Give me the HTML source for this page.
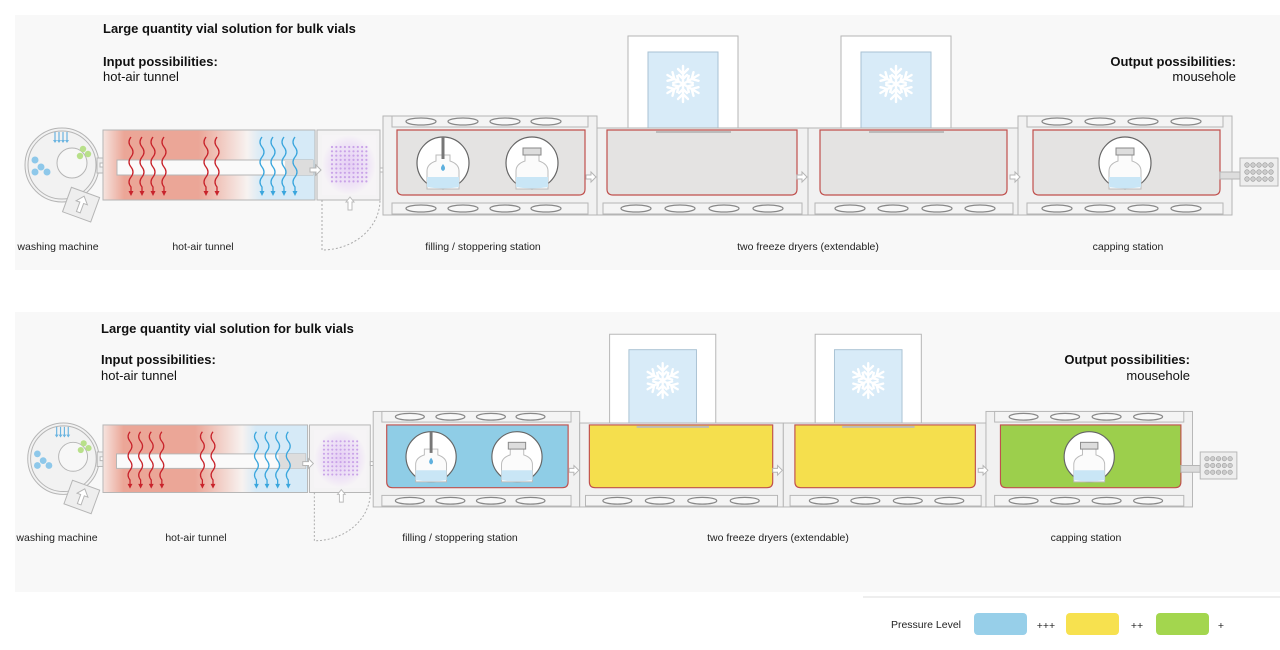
<!DOCTYPE html>
<html><head><meta charset="utf-8"><style>
html,body{margin:0;padding:0;background:#fff;width:1280px;height:650px;overflow:hidden}
svg{display:block;font-family:"Liberation Sans",sans-serif}
</style></head><body>
<svg id="s" width="1280" height="650" viewBox="0 0 1280 650" xmlns="http://www.w3.org/2000/svg">
<defs>
<linearGradient id="tun" x1="0" x2="1" y1="0" y2="0">
<stop offset="0" stop-color="#f6e4df"/><stop offset="0.1" stop-color="#eba697"/><stop offset="0.45" stop-color="#eba697"/>
<stop offset="0.68" stop-color="#f7f2f0"/><stop offset="0.75" stop-color="#d6eaf7"/><stop offset="1" stop-color="#d6eaf7"/></linearGradient>
<radialGradient id="pur"><stop offset="0" stop-color="#e6cff5"/><stop offset="0.7" stop-color="#efe4f6"/><stop offset="1" stop-color="#f6f4f6"/></radialGradient>
</defs>
<rect x="15" y="15" width="1265" height="255" fill="#f8f8f8"/>
<rect x="15" y="312" width="1265" height="280" fill="#f8f8f8"/>
<rect x="863" y="596" width="417" height="2" fill="#eeeeee"/>
<g id="g1"></g>
<g id="g2" transform="translate(3.6,299.5) scale(0.965)"></g>
<g font-size="13" fill="#111">
<text x="103" y="33" font-weight="bold">Large quantity vial solution for bulk vials</text>
<text x="103" y="66" font-weight="bold">Input possibilities:</text>
<text x="103" y="81">hot-air tunnel</text>
<text x="1236" y="66" font-weight="bold" text-anchor="end">Output possibilities:</text>
<text x="1236" y="81" text-anchor="end">mousehole</text>
<text x="101" y="333" font-weight="bold">Large quantity vial solution for bulk vials</text>
<text x="101" y="364" font-weight="bold">Input possibilities:</text>
<text x="101" y="380">hot-air tunnel</text>
<text x="1190" y="364" font-weight="bold" text-anchor="end">Output possibilities:</text>
<text x="1190" y="380" text-anchor="end">mousehole</text>
</g>
<g font-size="10.5" fill="#222" text-anchor="middle">
<text x="58" y="250">washing machine</text><text x="203" y="250">hot-air tunnel</text>
<text x="483" y="250">filling / stoppering station</text><text x="808" y="250">two freeze dryers (extendable)</text>
<text x="1128" y="250">capping station</text>
<text x="57" y="541">washing machine</text><text x="196" y="541">hot-air tunnel</text>
<text x="460" y="541">filling / stoppering station</text><text x="778" y="541">two freeze dryers (extendable)</text>
<text x="1086" y="541">capping station</text>
<text x="926" y="628">Pressure Level</text>
<text x="1046" y="629">+++</text><text x="1137" y="629">++</text><text x="1221" y="629">+</text>
</g>
<rect x="974" y="613" width="53" height="22" rx="4" fill="#97cfe9"/>
<rect x="1066" y="613" width="53" height="22" rx="4" fill="#f7e14f"/>
<rect x="1156" y="613" width="53" height="22" rx="4" fill="#a3d64e"/>
</svg>
<script>
function build(fA,fB,fC,fD){
let s='';
const st='stroke="#b5b5b5" stroke-width="1"';
// washing machine
s+=`<circle cx="62" cy="165" r="37" fill="#f2f2f2" ${st}/><circle cx="62" cy="165" r="34" fill="none" ${st}/>
<circle cx="72" cy="163" r="15" fill="#f7f7f7" ${st}/>
<g transform="rotate(20 82 205)"><rect x="66" y="192" width="30" height="26" fill="#eee" ${st}/>
<path d="M81 196 l-6 7 h4 v10 h4 v-10 h4z" fill="#fff" ${st}/></g>`;
for(let i=0;i<4;i++)s+=`<path d="M${55+i*4} 132 v10" stroke="#6ab4e0" stroke-width="1.2"/><path d="M${53+i*4} 140 l2 3 l2 -3" fill="#6ab4e0"/>`;
[[35,160],[41,167],[35,172],[47,172]].forEach(p=>s+=`<circle cx="${p[0]}" cy="${p[1]}" r="3.5" fill="#8ec8ea"/>`);
[[83,149],[88,154],[80,156]].forEach(p=>s+=`<circle cx="${p[0]}" cy="${p[1]}" r="3.2" fill="#b8e08a"/>`);
s+=`<rect x="97" y="158" width="20" height="15" fill="#eee" ${st}/><path d="M100 163 h7 v-3 l5 5 l-5 5 v-3 h-7z" fill="#fff" ${st}/>`;
// tunnel
s+=`<rect x="103" y="130" width="212" height="70" fill="url(#tun)" ${st}/>
<rect x="117" y="160" width="196" height="15" fill="#fafafa" ${st}/><rect x="285" y="160" width="28" height="15" fill="#ddd"/>`;
const wave=(x,c)=>`<path d="M${x} 137 q-4 5 0 10 q4 5 0 10 q-4 5 0 10 q4 5 0 10 q-4 5 0 10 v6" fill="none" stroke="${c}" stroke-width="1.3"/><path d="M${x-2.5} 191 l2.5 5 l2.5 -5z" fill="${c}"/>`;
[131,142,153,164,206,217].forEach(x=>s+=wave(x,'#c8232b'));
[262,273,284,295].forEach(x=>s+=wave(x,'#3aa6dd'));
// purple
s+=`<rect x="317" y="130" width="63" height="70" fill="#f4f3f4" ${st}/><rect x="322" y="135" width="54" height="60" fill="url(#pur)"/>`;
for(let r=0;r<9;r++)for(let c=0;c<9;c++)s+=`<circle cx="${332+c*4.3}" cy="${147+r*4.3}" r="1.1" fill="#c9a3e8"/>`;
s+=`<path d="M310 168 h6 v-3 l5 5 l-5 5 v-3 h-6z" fill="#fff" ${st}/><path d="M380 168 h5 v-3 l5 5 l-5 5 v-3 h-5z" fill="#fff" ${st}/>`;
s+=`<path d="M322 200 v50 a58 50 0 0 0 58 -50" fill="none" stroke="#aaa" stroke-dasharray="2 2"/><path d="M350 197 l-4 5 h2 v8 h4 v-8 h2z" fill="#fff" stroke="#bbb"/>`;
// modules
const rail=(x,y,w,xs)=>{let r=`<rect x="${x}" y="${y}" width="${w}" height="11" fill="#f4f4f4" ${st}/>`;xs.forEach(cx=>r+=`<ellipse cx="${cx}" cy="${y+5.5}" rx="15" ry="3.5" fill="#f8f8f8" stroke="#888" stroke-width="1.3"/>`);return r;};
const inner=(x,y,w,h,f)=>`<path d="M${x} ${y} h${w} v${h-6} q0 6 -6 6 h${-w+12} q-6 0 -6 -6z" fill="${f}" stroke="#c0504d" stroke-width="1.2"/>`;
// filling
s+=`<rect x="383" y="116" width="214" height="99" fill="#f1f1f1" ${st}/>`+rail(392,116,196,[421,463,505,546])+rail(392,203,196,[421,463,505,546])+inner(397,130,188,65,fA);
// dryer towers
[[628,648],[841,861]].forEach(t=>{s+=`<rect x="${t[0]}" y="36" width="110" height="94" fill="#fff" ${st}/><rect x="${t[1]}" y="52" width="70" height="78" fill="#d8ebf8" stroke="#a9c2d3"/>`;
const cx=t[1]+35,cy=84;let f='';for(let a=0;a<6;a++){f+=`<g transform="rotate(${a*60} ${cx} ${cy})"><path d="M${cx} ${cy} v-18 M${cx} ${cy-10} l-5 -5 M${cx} ${cy-10} l5 -5 M${cx} ${cy-5} l-4 -4 M${cx} ${cy-5} l4 -4" stroke="#fff" stroke-width="2.4" stroke-linecap="round"/></g>`;}s+=f;});
s+=`<rect x="597" y="128" width="211" height="87" fill="#f1f1f1" ${st}/><rect x="808" y="128" width="210" height="87" fill="#f1f1f1" ${st}/>`;
s+=rail(603,203,199,[636,680,724,768])+rail(815,203,198,[850,893,937,980]);
s+=inner(607,130,190,65,fB)+inner(820,130,187,65,fC);
s+=`<rect x="656" y="131" width="75" height="2" fill="#bbb"/><rect x="869" y="131" width="75" height="2" fill="#bbb"/>`;
// capping
s+=`<rect x="1018" y="116" width="214" height="99" fill="#f1f1f1" ${st}/>`+rail(1027,116,196,[1057,1100,1143,1186])+rail(1027,203,196,[1057,1100,1143,1186])+inner(1033,130,187,65,fD);
[[586,178],[797,178],[1010,178]].forEach(p=>s+=`<path d="M${p[0]} ${p[1]-3} h5 v-3 l5 5 l-5 5 v-3 h-5z" fill="#fff" ${st}/>`);
s+=`<rect x="1220" y="172" width="20" height="7" fill="#ddd" ${st}/><rect x="1240" y="158" width="38" height="28" fill="#eee" ${st}/>`;
for(let r=0;r<3;r++)for(let c=0;c<5;c++)s+=`<circle cx="${1247+c*6}" cy="${165+r*7}" r="2.3" fill="#ccc" stroke="#999" stroke-width=".6"/>`;
// vial circles
const circ=(cx,cy,k)=>{let r=`<circle cx="${cx}" cy="${cy}" r="26" fill="#fff" stroke="#666" stroke-width="1.2"/>`;
r+=`<path d="M${cx-7} ${cy-8} v6 q-9 3 -9 10 v18 h32 v-18 q0 -7 -9 -10 v-6z" fill="#fbfbfb" stroke="#bbb"/><path d="M${cx-16} ${cy+14} h32 v10 q-16 3 -32 0z" fill="#c9e6f6"/>`;
if(k==1)r+=`<rect x="${cx-1.5}" y="${cy-26}" width="3" height="22" fill="#777"/><path d="M${cx} ${cy+1} q-4 5 0 7 q4 -2 0 -7z" fill="#5eb0de"/>`;
else r+=`<rect x="${cx-9}" y="${cy-15}" width="18" height="7" fill="#ddd" stroke="#888"/>`;return r;};
s+=circ(443,163,1)+circ(532,163,2)+circ(1125,163,2);
return s;}
document.getElementById('g1').innerHTML=build('#e4e3e2','#e4e3e2','#e4e3e2','#e4e3e2');
document.getElementById('g2').innerHTML=build('#8fcde6','#f5df4d','#f5df4d','#9ccf4c');
</script>
</body></html>
